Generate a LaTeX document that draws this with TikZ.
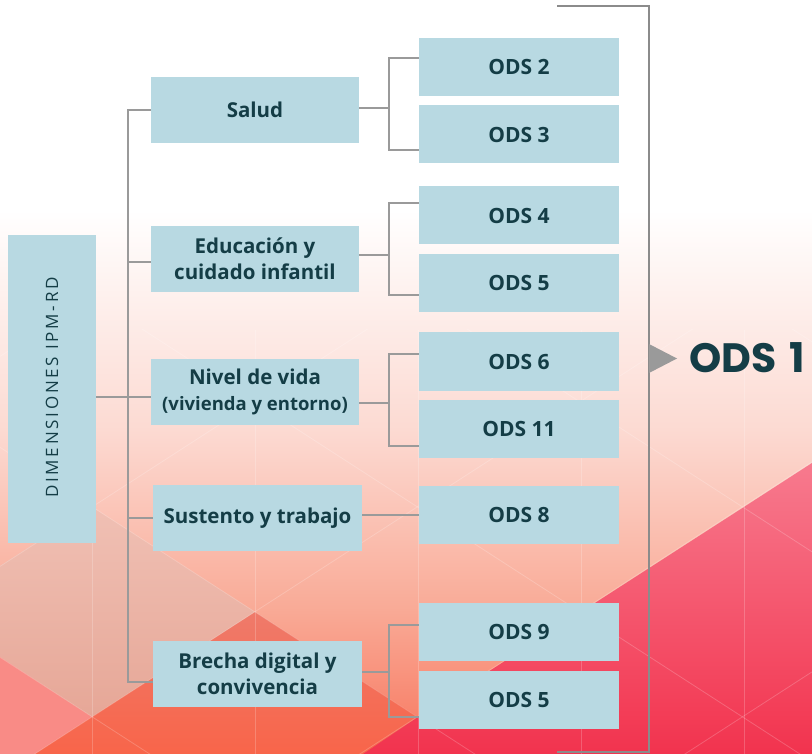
\documentclass[tikz,border=0pt]{standalone}
\usepackage{fontspec}
\setmainfont{Open Sans}
\newfontfamily\odsfont{Poppins}
\newfontfamily\dimfont[LetterSpace=16]{Open Sans}
\definecolor{boxc}{HTML}{B8D9E2}
\definecolor{txtc}{HTML}{143D46}
\definecolor{linec}{HTML}{9A9A9A}
\definecolor{bga}{HTML}{FCDAD2}
\definecolor{bgb}{HTML}{F9AA96}
\definecolor{bgc}{HTML}{F8765E}
\definecolor{reda}{HTML}{F77A8E}
\definecolor{redb}{HTML}{F2334E}
\definecolor{dulla}{HTML}{F0C0B4}
\definecolor{dullb}{HTML}{E6A797}
\definecolor{orna}{HTML}{EF7A6A}
\definecolor{ornb}{HTML}{F8654A}
\definecolor{pinkc}{HTML}{F98B86}
\begin{document}
\begin{tikzpicture}[x=1pt,y=-1pt,
  box/.style={rectangle, fill=boxc, text=txtc, inner sep=0pt, align=center,
    font=\bfseries\fontsize{20.5}{26}\selectfont},
  lvl/.style={box, minimum width=208pt, minimum height=66pt},
  ods/.style={box, minimum width=200pt, minimum height=58pt,
    font=\bfseries\fontsize{21}{26}\selectfont},
  conn/.style={draw=linec, line width=1.6pt},
  lattice/.style={white, opacity=0.2, line width=0.8pt}]
\useasboundingbox (0,0) rectangle (812,754);
% background
\fill[white] (0,0) rectangle (812,754);
\shade[top color=white, bottom color=bga] (0,210) rectangle (812,430);
\shade[top color=bga, bottom color=bgb] (0,429.5) rectangle (812,610);
\shade[top color=bgb, bottom color=bgc] (0,609.5) rectangle (812,754);
\shade[top color=dulla, bottom color=dullb] (0,566) -- (92,507) -- (255,612) -- (92,717) -- (0,657) -- cycle;
\fill[pinkc] (0,657) -- (92,717) -- (35,754) -- (0,754) -- cycle;
\shade[top color=orna, bottom color=ornb] (35,754) -- (92,717) -- (255,612) -- (418,717) -- (363,754) -- cycle;
\shade[top color=reda, bottom color=redb] (363,754) -- (418,717) -- (581,612) -- (744,507) -- (812,463) -- (812,754) -- cycle;
% faint triangle lattice
\begin{scope}
\clip (0,330) rectangle (812,754);
\foreach \vx in {92,255,418,581,744}
  \draw[lattice] (\vx,330) -- (\vx,754);
\foreach \c in {356.4,566.4,776.4,986.4,1196.4,1406.4}
  \draw[lattice] (0,\c) -- (812,\c-524.5);
\foreach \d in {-182.7,27.3,237.3,447.3,657.3}
  \draw[lattice] (0,\d) -- (812,\d+524.5);
\end{scope}
% boxes
\node[box, minimum width=88pt, minimum height=308pt] (dim) at (52,389) {};
\node[rotate=90, text=txtc, font=\dimfont\fontsize{17}{20}\selectfont] (dimtxt) at (52,387.5) {DIMENSIONES IPM-RD};
\node[lvl] (salud) at (255,110) {Salud};
\node[lvl] (edu) at (255,259) {Educación y\\cuidado infantil};
\node[lvl] (nivel) at (255,392) {Nivel de vida\\{\fontsize{18.5}{26}\selectfont(vivienda y entorno)}};
\node[lvl, minimum width=209pt] (sust) at (257.5,518) {Sustento y trabajo};
\node[lvl, minimum width=209pt] (brecha) at (257.5,674) {Brecha digital y\\convivencia};
\node[ods] (o2) at (519,67) {ODS 2};
\node[ods] (o3) at (519,134.5) {ODS 3};
\node[ods] (o4) at (519,215.5) {ODS 4};
\node[ods] (o5a) at (519,283) {ODS 5};
\node[ods] (o6) at (519,361.5) {ODS 6};
\node[ods] (o11) at (519,429) {ODS 11};
\node[ods] (o8) at (519,514.5) {ODS 8};
\node[ods] (o9) at (519,632) {ODS 9};
\node[ods] (o5b) at (519,699.5) {ODS 5};
\node[anchor=west, inner sep=0pt, text=txtc, font=\odsfont\bfseries\fontsize{41}{41}\selectfont] (ods1) at (689,358) {ODS\hspace{13pt}1};
% connectors: dimensions to levels
\draw[conn] (salud.west) -- (128,110) |- (brecha.west |- 0,682);
\draw[conn] (128,262) -- (edu.west |- 0,262);
\draw[conn] (128,518) -- (sust.west);
\draw[conn] (dim.east |- 0,397) -- (nivel.west |- 0,397);
% levels to ODS
\draw[conn] (salud.east |- 0,108) -- (389,108);
\draw[conn] (o2.west |- 0,58) -| (389,150) -- (o3.west |- 0,150);
\draw[conn] (edu.east |- 0,255) -- (389,255);
\draw[conn] (o4.west |- 0,203) -| (389,295) -- (o5a.west |- 0,295);
\draw[conn] (nivel.east |- 0,403) -- (389,403);
\draw[conn] (o6.west |- 0,354) -| (389,446) -- (o11.west |- 0,446);
\draw[conn] (sust.east |- 0,515) -- (o8.west |- 0,515);
\draw[conn] (brecha.east |- 0,672) -- (389,672);
\draw[conn] (o9.west |- 0,625) -| (389,717) -- (o5b.west |- 0,717);
% bracket to ODS 1
\coordinate (btop) at (557,6);
\coordinate (bbot) at (557,752);
\draw[conn, draw=linec!90!black] (btop) -- (649,6) -- (649,752) -- (bbot);
\fill[linec] (649,344) -- (677,358.5) -- (649,373) -- cycle;
\end{tikzpicture}
\end{document}
